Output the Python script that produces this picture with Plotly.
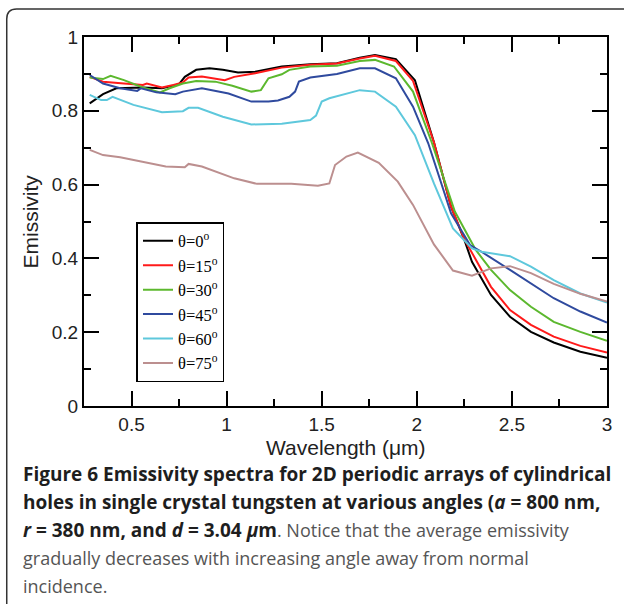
import plotly.graph_objects as go

# ---- data ----
wl_0 = [0.28,0.35,0.42,0.56,0.66,0.75,0.78,0.84,0.91,0.98,1.06,1.15,1.29,1.44,1.58,1.70,1.78,1.89,1.99,2.09,2.18,2.25,2.29,2.39,2.49,2.60,2.72,2.86,3.0]
em_0 = [0.820,0.845,0.861,0.863,0.861,0.872,0.892,0.911,0.915,0.911,0.904,0.906,0.920,0.926,0.929,0.944,0.951,0.940,0.883,0.715,0.540,0.450,0.391,0.301,0.242,0.201,0.172,0.147,0.131]

wl_15 = [0.28,0.35,0.46,0.56,0.58,0.66,0.72,0.77,0.80,0.87,0.99,1.04,1.15,1.29,1.44,1.58,1.70,1.78,1.89,1.98,2.09,2.18,2.25,2.31,2.39,2.49,2.60,2.72,2.86,3.0]
em_15 = [0.892,0.879,0.874,0.870,0.874,0.863,0.870,0.877,0.890,0.893,0.883,0.892,0.902,0.917,0.925,0.928,0.942,0.949,0.935,0.881,0.715,0.540,0.452,0.396,0.323,0.260,0.220,0.188,0.163,0.145]

wl_30 = [0.28,0.35,0.39,0.46,0.56,0.65,0.70,0.77,0.84,0.94,1.03,1.13,1.18,1.22,1.29,1.33,1.44,1.58,1.70,1.78,1.88,1.98,2.08,2.20,2.31,2.39,2.49,2.60,2.72,2.86,3.0]
em_30 = [0.890,0.886,0.895,0.883,0.863,0.850,0.861,0.874,0.881,0.879,0.868,0.852,0.856,0.888,0.899,0.911,0.920,0.922,0.935,0.938,0.920,0.852,0.712,0.527,0.423,0.369,0.314,0.269,0.228,0.201,0.177]

wl_45 = [0.28,0.35,0.44,0.53,0.55,0.63,0.73,0.77,0.87,1.01,1.13,1.22,1.27,1.33,1.36,1.38,1.44,1.58,1.70,1.78,1.89,1.98,2.06,2.18,2.28,2.34,2.49,2.60,2.72,2.86,3.0]
em_45 = [0.897,0.874,0.861,0.854,0.861,0.850,0.845,0.852,0.861,0.847,0.825,0.825,0.828,0.838,0.852,0.879,0.890,0.900,0.915,0.915,0.888,0.811,0.712,0.522,0.436,0.418,0.369,0.332,0.292,0.256,0.226]

wl_60 = [0.28,0.34,0.37,0.40,0.51,0.66,0.77,0.80,0.85,0.98,1.13,1.29,1.44,1.47,1.50,1.54,1.70,1.78,1.89,1.99,2.09,2.19,2.29,2.34,2.49,2.60,2.72,2.86,3.0]
em_60 = [0.843,0.829,0.829,0.838,0.816,0.796,0.799,0.808,0.808,0.784,0.763,0.765,0.775,0.787,0.825,0.834,0.856,0.852,0.811,0.734,0.603,0.481,0.427,0.418,0.406,0.378,0.341,0.305,0.280]

wl_75 = [0.28,0.35,0.44,0.59,0.68,0.78,0.80,0.87,1.04,1.16,1.34,1.48,1.54,1.57,1.63,1.69,1.80,1.90,1.98,2.09,2.19,2.29,2.39,2.49,2.60,2.72,2.86,3.0]
em_75 = [0.694,0.680,0.674,0.658,0.649,0.647,0.656,0.649,0.617,0.602,0.602,0.597,0.603,0.653,0.676,0.687,0.659,0.608,0.545,0.438,0.367,0.353,0.373,0.379,0.360,0.331,0.304,0.283]

angles = ["0", "15", "30", "45", "60", "75"]
colors = ["#000000", "#ff1a1a", "#5cb82e", "#2f4a9e", "#5ec8dc", "#bc8f8f"]
series = [(wl_0, em_0), (wl_15, em_15), (wl_30, em_30), (wl_45, em_45), (wl_60, em_60), (wl_75, em_75)]

x_ticks = [0.5, 1, 1.5, 2, 2.5, 3]
x_ticklabels = ["0.5", "1", "1.5", "2", "2.5", "3"]
y_ticks = [0, 0.2, 0.4, 0.6, 0.8, 1]
y_ticklabels = ["0", "0.2", "0.4", "0.6", "0.8", "1"]

x_title = "Wavelength (μm)"
y_title = "Emissivity"

BOLD = '<b><span style="font-size:19px;fill:#1e1e1e">{}</span></b>'
caption_lines = [
    BOLD.format("Figure 6 Emissivity spectra for 2D periodic arrays of cylindrical"),
    BOLD.format("holes in single crystal tungsten at various angles (<i>a</i> = 800 nm,"),
    BOLD.format("<i>r</i> = 380 nm, and <i>d</i> = 3.04 <i>μ</i>m") + ". Notice that the average emissivity",
    "gradually decreases with increasing angle away from normal",
    "incidence.",
]

W, H = 624, 604
L, R, T, B = 84, 12, 37, 198
pw, ph = W - L - R, H - T - B

def px2x(px):
    return (px - L) / pw

def py2y(py):
    return (H - B - py) / ph

fig = go.Figure()
for (wl, em), a, c in zip(series, angles, colors):
    fig.add_trace(go.Scatter(x=wl, y=em, mode="lines", name="θ=" + a + "<sup>o</sup>",
                             line=dict(color=c, width=2)))

axis_common = dict(
    showline=True, linecolor="black", linewidth=2, mirror="allticks",
    ticks="inside", ticklen=15, tickwidth=2, tickcolor="black",
    showgrid=False, zeroline=False,
    tickfont=dict(family="Liberation Sans, Arial, sans-serif", size=19, color="#222"),
)

fig.update_xaxes(range=[0.25, 3], tickvals=x_ticks, ticktext=x_ticklabels,
                 minor=dict(dtick=0.25, tick0=0, ticks="inside", ticklen=7, tickwidth=2, tickcolor="black"),
                 **axis_common)
fig.update_yaxes(range=[0, 1], tickvals=y_ticks, ticktext=y_ticklabels,
                 minor=dict(dtick=0.1, tick0=0, ticks="inside", ticklen=7, tickwidth=2, tickcolor="black"),
                 **axis_common)

# axis titles placed as annotations
fig.add_annotation(text=x_title, xref="paper", yref="paper", x=px2x(348), y=py2y(447),
                   xanchor="center", yanchor="middle", showarrow=False, borderpad=0,
                   font=dict(family="Liberation Sans, Arial, sans-serif", size=21, color="#222"))
fig.add_annotation(text=y_title, xref="paper", yref="paper", x=px2x(30), y=py2y(222),
                   xanchor="center", yanchor="middle", showarrow=False, textangle=-90,
                   font=dict(family="Liberation Sans, Arial, sans-serif", size=21, color="#222"))

# rounded frame around the figure
fx0, fy0 = px2x(6), py2y(9)
rx, ry = 10 / pw, 10 / ph
fig.add_shape(type="path", xref="paper", yref="paper",
              path=f"M {px2x(640)},{fy0} L {fx0 + rx},{fy0} Q {fx0},{fy0} {fx0},{fy0 - ry} L {fx0},{py2y(620)}",
              line=dict(color="#333", width=1.5))

cap_y = [474, 502, 530, 558, 586]
for txt, yy in zip(caption_lines, cap_y):
    fig.add_annotation(text=txt, xref="paper", yref="paper", x=px2x(20), y=py2y(yy),
                       xanchor="left", yanchor="middle", showarrow=False,
                       font=dict(family="Open Sans, sans-serif", size=18, color="#555555"))

fig.update_layout(
    width=W, height=H,
    margin=dict(l=L, r=R, t=T, b=B),
    paper_bgcolor="white", plot_bgcolor="white",
    showlegend=True,
    legend=dict(x=px2x(137), y=py2y(222), xanchor="left", yanchor="top",
                bgcolor="white", bordercolor="black", borderwidth=1.5,
                font=dict(family="Liberation Serif, Times New Roman, serif", size=16.5, color="black"),
                itemwidth=30, tracegroupgap=0),
)

fig.write_html("out.html", config={"displayModeBar": False},
               post_script="document.body.style.margin='0';")
